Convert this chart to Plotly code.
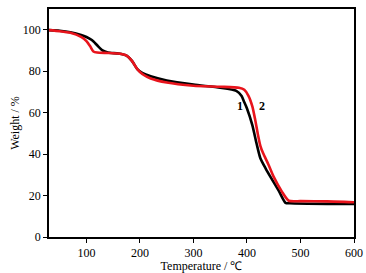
import plotly.graph_objects as go

temp_1 = [30, 50, 70, 90, 100, 110, 120, 130, 140, 160, 175, 185, 195, 205, 220, 250, 300, 350, 380, 390, 395, 400, 410, 418, 425, 435, 445, 460, 472, 480, 550, 600]
weight_1 = [99.8, 99.5, 98.8, 97.5, 96.5, 95, 92.5, 90, 89, 88.5, 87.5, 85, 81, 79, 77.5, 75.5, 73.5, 72, 70.5, 68, 65, 62, 54, 45, 38, 33, 28.5, 22, 16.5, 16.3, 16, 16]

temp_2 = [30, 50, 70, 90, 100, 107, 113, 120, 140, 160, 175, 185, 195, 205, 220, 250, 300, 350, 385, 395, 403, 410, 415, 420, 425, 430, 440, 450, 465, 478, 500, 550, 600]
weight_2 = [99.8, 99.3, 98.5, 96.5, 94.5, 92, 89.5, 89, 88.8, 88.5, 87.5, 85, 81, 78.5, 76.5, 74.5, 73, 72.5, 72, 71, 68, 63, 57, 50, 44, 40.5, 35, 29, 22, 17.5, 17.3, 17.2, 16.8]

labels = ["1", "2"]
label_x = [387, 428]
label_y = [62.5, 62.5]

SERIF = "Liberation Serif, Times New Roman, serif"

fig = go.Figure()
fig.add_trace(go.Scatter(x=temp_1, y=weight_1, mode="lines", line=dict(color="black", width=2.6, shape="spline", smoothing=0.6), showlegend=False))
fig.add_trace(go.Scatter(x=temp_2, y=weight_2, mode="lines", line=dict(color="#e8141c", width=2.6, shape="spline", smoothing=0.6), showlegend=False))
fig.add_trace(go.Scatter(x=label_x, y=label_y, mode="text", text=labels,
                         textfont=dict(family=SERIF, size=12, color="black"),
                         texttemplate="<b>%{text}</b>", showlegend=False))

axis_common = dict(showline=True, linecolor="black", linewidth=1.5, mirror=True, showgrid=False,
                   zeroline=False, ticks="outside", ticklen=4, tickcolor="black", automargin=False,
                   tickfont=dict(family=SERIF, size=12, color="black"))

fig.update_layout(
    width=366, height=273,
    margin=dict(l=49, r=12, t=9, b=36),
    paper_bgcolor="white", plot_bgcolor="white",
    font=dict(family=SERIF),
    xaxis=dict(range=[30, 600], tickvals=[100, 200, 300, 400, 500, 600],
               title=dict(text="Temperature / ℃", font=dict(family=SERIF, size=12, color="black"), standoff=1),
               **axis_common),
    yaxis=dict(range=[0, 110], tickvals=[0, 20, 40, 60, 80, 100],
               title=dict(text="Weight / %", font=dict(family=SERIF, size=12, color="black"), standoff=1),
               **axis_common),
)
fig.write_html("out.html", config={"displayModeBar": False},
               post_script="document.body.style.margin='0';document.body.style.overflow='hidden';")
